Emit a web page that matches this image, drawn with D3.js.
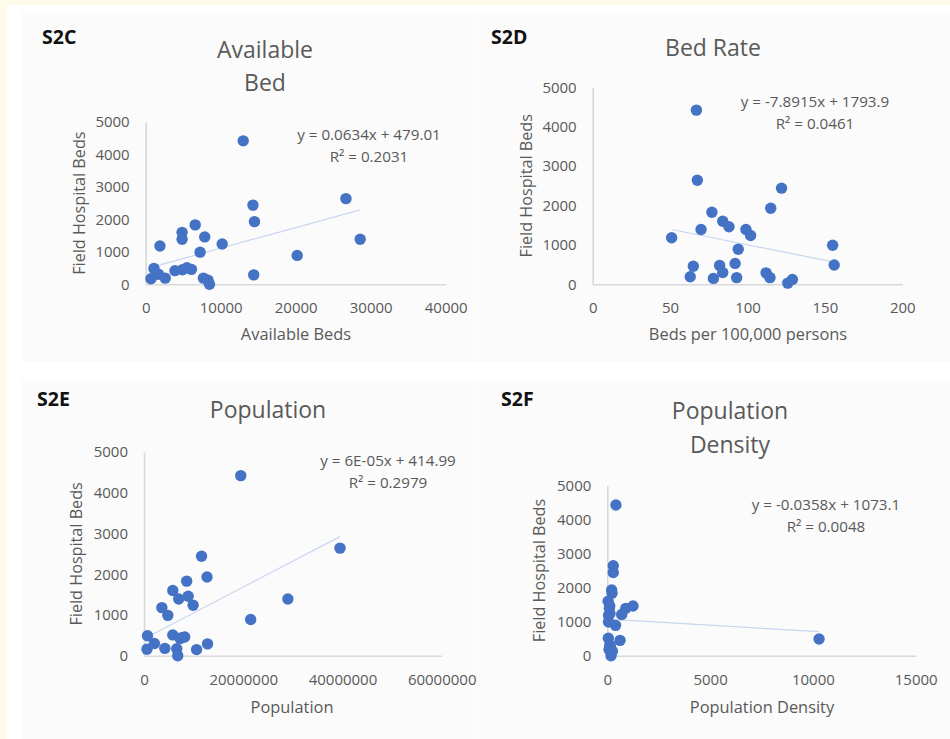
<!DOCTYPE html>
<html>
<head>
<meta charset="utf-8">
<script src="https://cdn.jsdelivr.net/npm/d3@7/dist/d3.min.js"></script>
<style>
  html, body { margin: 0; padding: 0; background: #fffbea; }
  svg { display: block; }
  text { font-family: "Open Sans", "DejaVu Sans", sans-serif; }
</style>
</head>
<body>
<script>
// ---------------- DATA ----------------
// S2C: Available beds vs field hospital beds
const availBedsX = [13000, 26700, 14300, 14500, 6600, 4850, 4850, 7870, 10200, 1900, 7250, 20200, 28600, 14400, 1100, 700, 1700, 2600, 3900, 4900, 5500, 6100, 7700, 8300, 8500];
const availBedsY = [4420, 2640, 2440, 1930, 1830, 1600, 1390, 1460, 1240, 1180, 990, 890, 1390, 290, 490, 170, 310, 190, 420, 450, 510, 460, 190, 130, 0];
// S2D: Beds per 100,000 persons
const bedRateX = [67, 67.6, 122, 115, 77, 84, 88, 70, 99, 102, 51, 94, 155, 156, 65, 63, 82, 84, 78, 92, 93, 112, 114.5, 126, 129];
const bedRateY = [4420, 2640, 2440, 1930, 1830, 1600, 1460, 1390, 1390, 1240, 1180, 890, 990, 490, 460, 190, 480, 300, 150, 530, 170, 290, 170, 30, 120];
// S2E: Population
const populationX = [19500000, 39500000, 11600000, 12700000, 8600000, 5800000, 8900000, 7000000, 29000000, 9900000, 3600000, 4800000, 21500000, 700000, 5800000, 7600000, 2100000, 12800000, 600000, 4200000, 6600000, 10600000, 6800000, 7300000, 8200000];
const populationY = [4420, 2640, 2440, 1930, 1830, 1600, 1460, 1390, 1390, 1240, 1180, 990, 890, 490, 510, 440, 300, 290, 160, 180, 170, 150, 0, 420, 460];
// S2F: Population density
const densityX = [420, 10300, 290, 290, 210, 230, 40, 100, 130, 120, 60, 1250, 900, 700, 400, 60, 620, 50, 120, 150, 100, 200, 180, 90, 250];
const densityY = [4420, 490, 2640, 2440, 1930, 1830, 1600, 1390, 1240, 1460, 1180, 1460, 1390, 1210, 890, 990, 450, 510, 290, 300, 170, 150, 0, 190, 130];

// Trendline coefficients [slope, intercept] and their labels
const trendAvail = [0.0634, 479.01];
const trendRate = [-7.8915, 1793.9];
const trendPop = [6.35e-5, 414.99];
const trendDensity = [-0.0358, 1073.1];
const eqAvail = ["y = 0.0634x + 479.01", "R\u00B2 = 0.2031"];
const eqRate = ["y = -7.8915x + 1793.9", "R\u00B2 = 0.0461"];
const eqPop = ["y = 6E-05x + 414.99", "R\u00B2 = 0.2979"];
const eqDensity = ["y = -0.0358x + 1073.1", "R\u00B2 = 0.0048"];

// Tick values
const yTicks = [0, 1000, 2000, 3000, 4000, 5000];
const availTicks = [0, 10000, 20000, 30000, 40000];
const rateTicks = [0, 50, 100, 150, 200];
const popTicks = [0, 20000000, 40000000, 60000000];
const densityTicks = [0, 5000, 10000, 15000];

// Labels
const panelLabels = ["S2C", "S2D", "S2E", "S2F"];
const panelTitles = [["Available", "Bed"], ["Bed Rate"], ["Population"], ["Population", "Density"]];
const xTitles = ["Available Beds", "Beds per 100,000 persons", "Population", "Population Density"];
const yTitle = "Field Hospital Beds";

// ---------------- LAYOUT ----------------
const W = 950, H = 739;
const svg = d3.select("body").append("svg").attr("width", W).attr("height", H);
svg.append("rect").attr("x", 7).attr("y", 5).attr("width", W - 7).attr("height", H - 5).attr("fill", "#ffffff");

const panels = [
  { box: [22, 12, 451, 350], x: availBedsX, y: availBedsY, trend: trendAvail, eq: eqAvail, ticks: availTicks,
    plot: { l: 145.7, r: 445.7, b: 284.3, t: 122 }, label: [42, 44], titleX: 265, titleY: [58, 91],
    xTitleX: 296, xTitleY: 340, yTitleX: 85, eqX: 369, eqY: [140, 162] },
  { box: [474, 12, 476, 350], x: bedRateX, y: bedRateY, trend: trendRate, eq: eqRate, ticks: rateTicks,
    plot: { l: 592.7, r: 902.3, b: 284.3, t: 87.3 }, label: [491, 44], titleX: 713, titleY: [56],
    xTitleX: 748, xTitleY: 340, yTitleX: 532, eqX: 815, eqY: [107, 129] },
  { box: [22, 380, 451, 359], x: populationX, y: populationY, trend: trendPop, eq: eqPop, ticks: popTicks,
    plot: { l: 144, r: 441.7, b: 655.7, t: 452 }, label: [37, 406], titleX: 268, titleY: [418],
    xTitleX: 292, xTitleY: 713, yTitleX: 82, eqX: 388, eqY: [466, 488] },
  { box: [474, 380, 476, 359], x: densityX, y: densityY, trend: trendDensity, eq: eqDensity, ticks: densityTicks,
    plot: { l: 607.3, r: 915.7, b: 655.7, t: 485.3 }, label: [501, 406], titleX: 730, titleY: [419, 453],
    xTitleX: 762, xTitleY: 713, yTitleX: 545, eqX: 826, eqY: [510, 532] }
];

const grey = "#595959";
const axisColor = "#d9d9d9";
const dotColor = "#4472C4";

// panel backgrounds first so no panel covers a neighbour's text
svg.append("g").selectAll("rect").data(panels).join("rect")
  .attr("x", p => p.box[0]).attr("y", p => p.box[1]).attr("width", p => p.box[2]).attr("height", p => p.box[3])
  .attr("fill", "#fbfbfb");

panels.forEach((p, i) => {
  const g = svg.append("g");

  const xs = d3.scaleLinear().domain([p.ticks[0], p.ticks[p.ticks.length - 1]]).range([p.plot.l, p.plot.r]);
  const ys = d3.scaleLinear().domain([0, 5000]).range([p.plot.b, p.plot.t]);

  // axes
  const xAxis = d3.axisBottom(xs).tickValues(p.ticks).tickFormat(d3.format("d")).tickSize(0).tickSizeOuter(0).tickPadding(18.5);
  const yAxis = d3.axisLeft(ys).tickValues(yTicks).tickFormat(d3.format("d")).tickSize(0).tickSizeOuter(0).tickPadding(16);
  const gx = g.append("g").attr("transform", `translate(0,${p.plot.b})`).call(xAxis);
  const gy = g.append("g").attr("transform", `translate(${p.plot.l},0)`).call(yAxis);
  [gx, gy].forEach(a => {
    a.select(".domain").attr("stroke", axisColor).attr("stroke-width", 1.6);
    a.selectAll("text").attr("fill", grey).style("font-size", "15px").style("font-family", "'Open Sans', sans-serif");
  });

  // trendline
  const [m, c] = p.trend;
  const xmin = d3.min(p.x), xmax = d3.max(p.x);
  g.append("line")
    .attr("x1", xs(xmin)).attr("y1", ys(m * xmin + c))
    .attr("x2", xs(xmax)).attr("y2", ys(m * xmax + c))
    .attr("stroke", "#c9d6f0").attr("stroke-width", 1.2);

  // points
  g.append("g").selectAll("circle").data(p.x.map((v, k) => [v, p.y[k]])).join("circle")
    .attr("cx", d => xs(d[0])).attr("cy", d => ys(d[1])).attr("r", 5.7).attr("fill", dotColor);

  // panel label
  g.append("text").attr("x", p.label[0]).attr("y", p.label[1]).text(panelLabels[i])
    .attr("fill", "#111").style("font-size", "19.5px").style("font-weight", "bold");

  // title
  panelTitles[i].forEach((t, k) => {
    g.append("text").attr("x", p.titleX).attr("y", p.titleY[k]).attr("text-anchor", "middle")
      .attr("fill", grey).style("font-size", "23px").text(t);
  });

  // axis titles
  g.append("text").attr("x", p.xTitleX).attr("y", p.xTitleY).attr("text-anchor", "middle")
    .attr("fill", grey).style("font-size", "16.4px").text(xTitles[i]);
  const cy = (p.plot.t + p.plot.b) / 2;
  g.append("text").attr("transform", `translate(${p.yTitleX},${cy}) rotate(-90)`).attr("text-anchor", "middle")
    .attr("fill", grey).style("font-size", "16.2px").text(yTitle);

  // equation
  p.eq.forEach((t, k) => {
    g.append("text").attr("x", p.eqX).attr("y", p.eqY[k]).attr("text-anchor", "middle")
      .attr("fill", grey).style("font-size", "15.2px").text(t);
  });
});
</script>
</body>
</html>
